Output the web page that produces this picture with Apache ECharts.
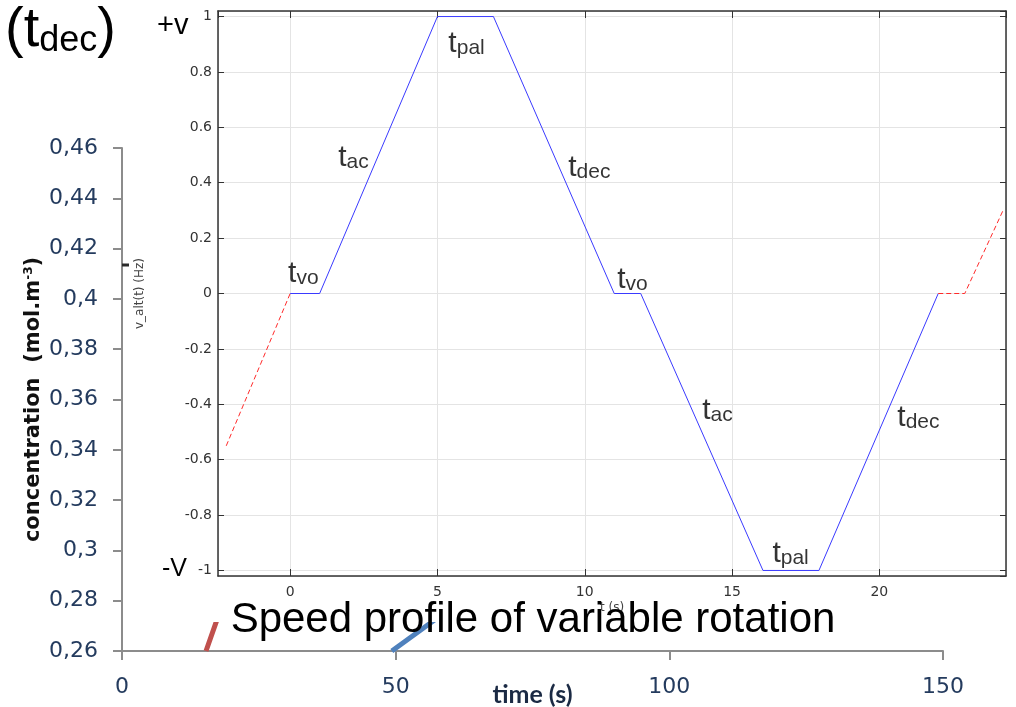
<!DOCTYPE html>
<html>
<head>
<meta charset="utf-8">
<script src="https://cdn.jsdelivr.net/npm/echarts@6/dist/echarts.min.js"></script>
<style>html,body{margin:0;padding:0;background:#fff}#c{width:1016px;height:707px}</style>
</head>
<body>
<div id="c"></div>
<script>
// ---- background chart: concentration vs time ----
const concTicksX = [0, 50, 100, 150];
const concBlack = [[0, 0.4135], [8, 0.4135]];
const concRed = [[15.35, 0.26], [17.2, 0.2715], [19, 0.283]];
const concBlue = [[49.3, 0.26], [56.6, 0.2715], [62, 0.28]];

// ---- inset chart: speed profile ----
const speedRedBefore = [[-2.17, -0.55], [0, 0]];
const speedBlue = [[0, 0], [1, 0], [5, 1], [6.9, 1], [11, 0], [11.9, 0], [16.05, -1], [17.95, -1], [22, 0]];
const speedRedAfter = [[22, 0], [22.9, 0], [24.2, 0.30]];

// phase annotations: [subscript, t, v]
const phaseLabels = [
  ['pal', 5.37, 0.906],
  ['ac', 1.63, 0.495],
  ['dec', 9.44, 0.458],
  ['vo', -0.07, 0.076],
  ['vo', 11.1, 0.054],
  ['ac', 13.99, -0.419],
  ['dec', 20.61, -0.444],
  ['pal', 16.37, -0.935]
];

const chart = echarts.init(document.getElementById('c'), null, {renderer: 'canvas'});
const comma = v => String(+(+v).toFixed(2)).replace('.', ',');
const innerMin = -2.45, innerMax = 24.3, vMin = -1.02, vMax = 1.02;
const dark = '#333';

const option = {
  animation: false,
  backgroundColor: '#ffffff',
  grid: [
    {left: 122, right: 73, top: 148, bottom: 56, outerBoundsMode: 'none', containLabel: false},
    {left: 218, right: 10, top: 11, bottom: 131, outerBoundsMode: 'none', containLabel: false}
  ],
  xAxis: [
    {
      gridIndex: 0, type: 'value', min: 0, max: 150, interval: 50, z: 0,
      axisLine: {show: true, onZero: false, lineStyle: {color: '#8c8c8c', width: 2}},
      axisTick: {show: true, length: 9, lineStyle: {color: '#8c8c8c', width: 2}},
      axisLabel: {color: '#243b5e', fontSize: 22, fontFamily: 'DejaVu Sans', margin: 25},
      splitLine: {show: false},
      name: 'time (s)', nameLocation: 'middle', nameGap: 31, nameMoveOverlap: false,
      nameTextStyle: {fontWeight: 'bold', fontSize: 25, fontFamily: 'Lato', color: '#1b2a44'}
    },
    {
      gridIndex: 1, type: 'value', min: innerMin, max: innerMax, splitNumber: 5, position: 'bottom', z: 4,
      axisLine: {show: true, onZero: false, lineStyle: {color: dark, width: 1.5}},
      axisTick: {show: true, inside: true, length: 7, lineStyle: {color: dark}},
      axisLabel: {showMinLabel: false, showMaxLabel: false, fontSize: 14, fontFamily: 'DejaVu Sans', color: '#333', margin: 9},
      splitLine: {show: true, lineStyle: {color: '#e4e4e4', width: 1}},
      name: 't (s)', nameLocation: 'middle', nameGap: 26, nameMoveOverlap: false,
      nameTextStyle: {fontSize: 12, fontFamily: 'DejaVu Sans', color: '#444'}
    },
    {
      gridIndex: 1, type: 'value', min: innerMin, max: innerMax, splitNumber: 5, position: 'top', z: 4,
      axisLine: {show: true, onZero: false, lineStyle: {color: dark, width: 1.5}},
      axisTick: {show: true, inside: true, length: 7, lineStyle: {color: dark}},
      axisLabel: {show: false}, splitLine: {show: false}
    }
  ],
  yAxis: [
    {
      gridIndex: 0, type: 'value', min: 0.26, max: 0.46, interval: 0.02, z: 0,
      axisLine: {show: true, onZero: false, lineStyle: {color: '#8c8c8c', width: 2}},
      axisTick: {show: true, length: 9, lineStyle: {color: '#8c8c8c', width: 2}},
      axisLabel: {color: '#243b5e', fontSize: 22, fontFamily: 'DejaVu Sans', margin: 24, formatter: comma},
      splitLine: {show: false},
      name: 'concentration  (mol.m{sup|-3})', nameLocation: 'middle', nameGap: 78, nameMoveOverlap: false,
      nameTextStyle: {fontWeight: 'bold', fontSize: 21, fontFamily: 'DejaVu Sans', color: '#111',
        rich: {sup: {fontSize: 12, fontWeight: 'bold', fontFamily: 'DejaVu Sans', color: '#111', verticalAlign: 'top', padding: [0, 0, 8, 0]}}}
    },
    {
      gridIndex: 1, type: 'value', min: vMin, max: vMax, splitNumber: 10, position: 'left', z: 4,
      axisLine: {show: true, onZero: false, lineStyle: {color: dark, width: 1.5}},
      axisTick: {show: true, inside: true, length: 6, lineStyle: {color: dark}},
      axisLabel: {showMinLabel: false, showMaxLabel: false, fontSize: 14, fontFamily: 'DejaVu Sans', color: '#333', margin: 6},
      splitLine: {show: true, lineStyle: {color: '#e4e4e4', width: 1}},
      name: 'v_alt(t) (Hz)', nameLocation: 'middle', nameGap: 72, nameMoveOverlap: false,
      nameTextStyle: {fontSize: 12, fontFamily: 'DejaVu Sans', color: '#444'}
    },
    {
      gridIndex: 1, type: 'value', min: vMin, max: vMax, splitNumber: 10, position: 'right', z: 4,
      axisLine: {show: true, onZero: false, lineStyle: {color: dark, width: 1.5}},
      axisTick: {show: true, inside: true, length: 6, lineStyle: {color: dark}},
      axisLabel: {show: false}, splitLine: {show: false}
    }
  ],
  series: [
    {type: 'line', xAxisIndex: 0, yAxisIndex: 0, data: concBlack, symbol: 'none', z: 2,
      lineStyle: {color: '#2a2a2a', width: 3}},
    {type: 'line', xAxisIndex: 0, yAxisIndex: 0, data: concRed, symbol: 'none', z: 2,
      lineStyle: {color: '#c0504d', width: 5}},
    {type: 'line', xAxisIndex: 0, yAxisIndex: 0, data: concBlue, symbol: 'none', z: 2,
      lineStyle: {color: '#4f81bd', width: 5}},
    {type: 'line', xAxisIndex: 1, yAxisIndex: 1, data: speedRedBefore, symbol: 'none', z: 5,
      lineStyle: {color: '#ff2a2a', width: 1, type: [5, 3]}},
    {type: 'line', xAxisIndex: 1, yAxisIndex: 1, data: speedBlue, symbol: 'none', z: 5,
      lineStyle: {color: '#3a3aff', width: 1}},
    {type: 'line', xAxisIndex: 1, yAxisIndex: 1, data: speedRedAfter, symbol: 'none', z: 5,
      lineStyle: {color: '#ff2a2a', width: 1, type: [5, 3]}},
    {
      type: 'scatter', xAxisIndex: 1, yAxisIndex: 1, symbolSize: 0, z: 6, silent: true,
      data: phaseLabels.map(p => ({value: [p[1], p[2]], sub: p[0]})),
      label: {
        show: true, position: 'right', distance: 0,
        formatter: p => '{t|t}{s|' + p.data.sub + '}',
        rich: {
          t: {fontSize: 30, fontFamily: 'Liberation Sans', color: '#000', verticalAlign: 'bottom', lineHeight: 32},
          s: {fontSize: 21, fontFamily: 'Liberation Sans', color: '#000', verticalAlign: 'bottom', lineHeight: 22}
        }
      }
    }
  ],
  graphic: [
    {type: 'rect', z: 3, silent: true, shape: {x: 129, y: 0, width: 887, height: 622}, style: {fill: '#ffffff'}},
    {type: 'text', z: 10, x: 5, y: 59, silent: true,
      style: {text: '{p|(t}{s|dec}{p|)}', verticalAlign: 'bottom', align: 'left',
        rich: {
          p: {fontSize: 56, fontFamily: 'Liberation Sans', fill: '#000', color: '#000', verticalAlign: 'bottom', lineHeight: 58},
          s: {fontSize: 36, fontFamily: 'Liberation Sans', fill: '#000', color: '#000', verticalAlign: 'bottom', lineHeight: 36}
        }}},
    {type: 'text', z: 10, x: 157, y: 26, silent: true,
      style: {text: '+v', fontSize: 29, fontFamily: 'Liberation Sans', fill: '#000', align: 'left', verticalAlign: 'middle'}},
    {type: 'text', z: 10, x: 162, y: 569, silent: true,
      style: {text: '-V', fontSize: 25, fontFamily: 'Liberation Sans', fill: '#000', align: 'left', verticalAlign: 'middle'}},
    {type: 'text', z: 10, x: 533, y: 620, silent: true,
      style: {text: 'Speed profile of variable rotation', fontSize: 42, fontFamily: 'Liberation Sans', fill: '#000', align: 'center', verticalAlign: 'middle'}}
  ]
};
chart.setOption(option);
</script>
</body>
</html>
